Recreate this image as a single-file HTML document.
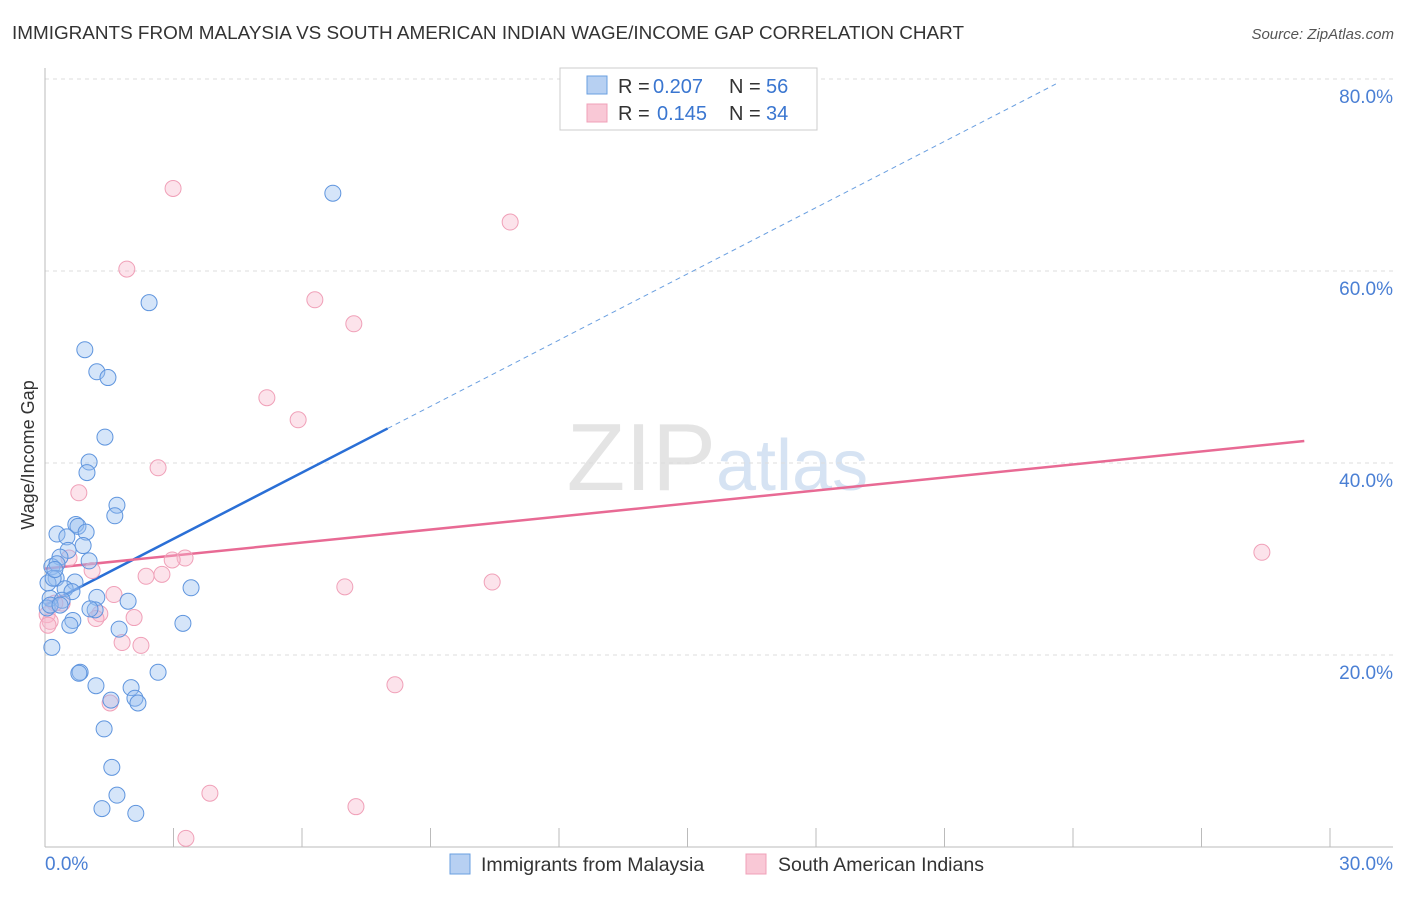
<!DOCTYPE html>
<html><head><meta charset="utf-8"><style>
body{margin:0;background:#fff;font-family:"Liberation Sans",sans-serif;}
svg text{font-family:"Liberation Sans",sans-serif;}
</style></head><body>
<svg id="chart" width="1406" height="892" xmlns="http://www.w3.org/2000/svg">
<text x="12" y="39" font-size="18.9" fill="#333">IMMIGRANTS FROM MALAYSIA VS SOUTH AMERICAN INDIAN WAGE/INCOME GAP CORRELATION CHART</text>
<text x="1394" y="39" font-size="15" fill="#555" text-anchor="end" font-style="italic">Source: ZipAtlas.com</text>
<text x="716" y="490" font-size="96" fill="#e4e4e4" text-anchor="end" font-family="Liberation Serif">ZIP</text>
<text x="716" y="490" font-size="72" fill="#d6e3f3">atlas</text>
<g id="grid"></g><g id="axes"></g><g id="trend"></g><g id="pts"></g>
<text x="34" y="455" font-size="18" fill="#333" transform="rotate(-90 34 455)" text-anchor="middle">Wage/Income Gap</text>
<g>
<rect x="560" y="68" width="257" height="62" fill="#fff" stroke="#ccc"/>
<rect x="587" y="76" width="20" height="18" fill="#b7d0f2" stroke="#6a9fe0"/>
<rect x="587" y="104" width="20" height="18" fill="#f9c8d6" stroke="#f0a0b8"/>
<text x="618" y="93" font-size="20" fill="#333">R =</text>
<text x="653" y="93" font-size="20" fill="#3a76d0">0.207</text>
<text x="729" y="93" font-size="20" fill="#333">N =</text>
<text x="766" y="93" font-size="20" fill="#3a76d0">56</text>
<text x="618" y="120" font-size="20" fill="#333">R =</text>
<text x="657" y="120" font-size="20" fill="#3a76d0">0.145</text>
<text x="729" y="120" font-size="20" fill="#333">N =</text>
<text x="766" y="120" font-size="20" fill="#3a76d0">34</text>
</g>
<g>
<rect x="450" y="854" width="20" height="20" fill="#b7d0f2" stroke="#6a9fe0"/>
<text x="481" y="871" font-size="19.5" fill="#333">Immigrants from Malaysia</text>
<rect x="746" y="854" width="20" height="20" fill="#f9c8d6" stroke="#f0a0b8"/>
<text x="778" y="871" font-size="19.5" fill="#333">South American Indians</text>
</g>
</svg>
<script>
const xTicks=[0,3,6,9,12,15,18,21,24,27,30];
const yTicks=[20,40,60,80];
const blueX=[6.72,2.43,0.93,1.21,1.47,1.40,1.03,0.98,1.68,1.63,0.72,0.77,0.28,0.96,0.51,0.89,0.54,0.35,1.03,0.16,0.28,0.26,0.70,0.07,0.47,0.63,0.12,0.40,1.21,1.94,1.17,1.05,0.65,0.58,3.41,3.22,1.73,0.16,0.82,0.79,2.64,1.19,2.01,1.54,2.10,2.17,1.38,1.56,1.68,1.33,2.12,0.05,0.12,0.19,0.35,0.23];
const blueY=[68.1,56.7,51.8,49.5,48.9,42.7,40.1,39.0,35.6,34.5,33.6,33.4,32.6,32.8,32.3,31.4,30.9,30.2,29.8,29.2,29.5,28.0,27.6,27.5,26.9,26.6,25.9,25.7,26.0,25.6,24.7,24.8,23.6,23.1,27.0,23.3,22.7,20.8,18.2,18.1,18.2,16.8,16.6,15.3,15.5,15.0,12.3,8.3,5.4,4.0,3.5,24.9,25.2,28.0,25.2,28.9];
const pinkX=[2.99,10.86,1.91,6.30,7.21,5.18,5.91,2.64,0.79,28.41,3.27,2.97,0.56,1.10,2.36,2.73,10.44,7.00,1.61,0.40,0.23,0.05,0.12,1.28,1.19,2.08,1.80,2.24,1.52,8.17,3.85,7.26,3.29,0.07];
const pinkY=[68.6,65.1,60.2,57.0,54.5,46.8,44.5,39.5,36.9,30.7,30.1,29.9,30.1,28.8,28.2,28.4,27.6,27.1,26.3,25.4,25.4,24.2,23.5,24.3,23.8,23.9,21.3,21.0,15.0,16.9,5.6,4.2,0.9,23.1];
const blueTrend=[25.2,2.3];
const pinkTrend=[29.0,0.452];
const NS="http://www.w3.org/2000/svg";
const sx=v=>45+v*42.833, sy=v=>847-v*9.6;
function mk(tag,attrs,parent){const e=document.createElementNS(NS,tag);for(const k in attrs)e.setAttribute(k,attrs[k]);document.getElementById(parent).appendChild(e);return e;}
yTicks.forEach(t=>{
 const g=mk('line',{x1:45,x2:1393,y1:sy(t),y2:sy(t),stroke:'#ddd','stroke-dasharray':'4,4'},'grid');
 
 
 const l=mk('text',{x:1393,y:sy(t)+24,'font-size':19,fill:'#4a7fd4','text-anchor':'end'},'grid');
 l.textContent=t.toFixed(1)+'%';
 
 
});
const ax=mk('line',{x1:45,x2:1393,y1:847,y2:847,stroke:'#bbb'},'axes');


const ay=mk('line',{x1:45,x2:45,y1:68,y2:847,stroke:'#bbb'},'axes');


xTicks.forEach(t=>{
 const k=mk('line',{x1:sx(t),x2:sx(t),y1:828,y2:847,stroke:'#bbb'},'axes');
 
 
});
[[0,'start'],[30,'end']].forEach(([t,a])=>{
 const l=mk('text',{x:t==0?45:1393,y:870,'font-size':19,fill:'#4a7fd4','text-anchor':a},'axes');
 l.textContent=t.toFixed(1)+'%';
 
 
});
function pts(xs,ys,fill,stroke,name){xs.forEach((x,i)=>{
 const c=mk('circle',{cx:sx(x),cy:sy(ys[i]),r:8,fill:fill,stroke:stroke,'stroke-width':1},'pts');
 
 
});}
pts(pinkX,pinkY,'rgba(248,185,205,0.4)','#f0a0b8','point-south-american-indian');
pts(blueX,blueY,'rgba(150,190,240,0.4)','#5f95de','point-malaysia');
const f=(tr,x)=>tr[0]+tr[1]*x;
let l1=mk('line',{x1:sx(0),y1:sy(f(blueTrend,0)),x2:sx(8),y2:sy(f(blueTrend,8)),stroke:'#2a6fd6','stroke-width':2.5},'trend');


let l2=mk('line',{x1:sx(8),y1:sy(f(blueTrend,8)),x2:sx(23.6),y2:sy(f(blueTrend,23.6)),stroke:'#6a9fe0','stroke-width':1,'stroke-dasharray':'5,4'},'trend');


let l3=mk('line',{x1:sx(0),y1:sy(f(pinkTrend,0)),x2:sx(29.4),y2:sy(f(pinkTrend,29.4)),stroke:'#e86a94','stroke-width':2.5},'trend');


</script>
</body></html>
